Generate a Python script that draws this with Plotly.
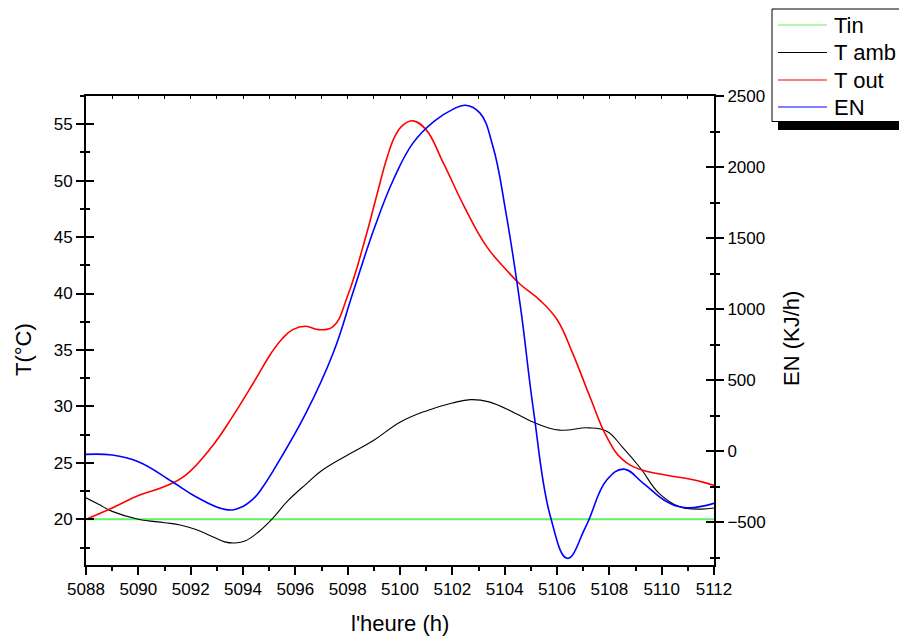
import plotly.graph_objects as go

# ---------------- data ----------------
hours_tin = [5088, 5112]
t_in = [20.0, 20.0]

hours_amb = [5088, 5088.5, 5089, 5090, 5091, 5091.6, 5092.2, 5092.8, 5093.3, 5093.7, 5094.1,
             5094.6, 5095.1, 5095.7, 5096.4, 5097, 5098, 5099, 5100, 5101, 5102, 5102.7,
             5103.4, 5104.4, 5105.1, 5106.1, 5107.2, 5107.9, 5108.5, 5109.2, 5109.9, 5110.7,
             5111.5, 5112]
t_amb = [21.9, 21.3, 20.7, 20.0, 19.7, 19.5, 19.1, 18.5, 18.0, 17.9, 18.1,
         18.9, 20.0, 21.6, 23.1, 24.3, 25.7, 27.0, 28.6, 29.6, 30.3, 30.6,
         30.4, 29.4, 28.6, 27.9, 28.1, 27.8, 26.4, 24.5, 22.3, 21.1,
         20.9, 21.0]

hours_out = [5088, 5089, 5090, 5091, 5091.8, 5092.8, 5093.6, 5094.4, 5095.1, 5095.5, 5095.9,
             5096.4, 5096.9, 5097.45, 5098, 5098.7, 5099.1, 5099.5, 5099.8, 5100.1, 5100.5,
             5101, 5101.65, 5102.5, 5103.3, 5104.1, 5104.6, 5105.35, 5106, 5106.6, 5107.25,
             5107.9, 5108.5, 5109.2, 5110.2, 5111.2, 5112]
t_out = [20.0, 21.0, 22.1, 22.9, 23.9, 26.4, 29.1, 32.1, 34.8, 36.0, 36.8,
         37.1, 36.8, 37.1, 39.8, 45.1, 48.6, 52.0, 53.9, 54.9, 55.3,
         54.5, 51.6, 47.5, 44.2, 42.0, 40.8, 39.4, 37.7, 34.7, 30.9,
         27.3, 25.3, 24.4, 23.9, 23.5, 23.0]

hours_en = [5088, 5089, 5090, 5091.3, 5092.2, 5093.35, 5093.9, 5094.4, 5094.75, 5095.1, 5096.4,
            5097.45, 5098.2, 5099, 5099.75, 5100.5, 5101.3, 5102, 5102.5, 5103.05, 5103.55,
            5104.05, 5104.6, 5105.1, 5105.75, 5106.4, 5107.1, 5107.9, 5108.55, 5109.3, 5110.2,
            5110.95, 5112]
en = [-23, -28, -75, -216, -321, -412, -398, -335, -255, -155, 265,
      692, 1114, 1560, 1912, 2170, 2322, 2404, 2435, 2381, 2146,
      1677, 1020, 289, -462, -755, -532, -204, -127, -227, -357,
      -399, -368]

legend_names = ["Tin", "T amb", "T out", "EN"]
legend_colors = ["#66ee66", "#000000", "#ff0000", "#0000ff"]

# ---------------- layout geometry ----------------
W, H = 899, 637
ML, MR, MT, MB = 86, 185, 96, 72
PW, PH = W - ML - MR, H - MT - MB


def px_x(p):
    return (p - ML) / PW


def px_y(p):
    return (H - MB - p) / PH


FONT = "Liberation Sans, Arial, sans-serif"
SMOOTH = 1.2

fig = go.Figure()
fig.add_trace(go.Scatter(x=hours_tin, y=t_in, mode="lines", name="Tin",
                         line=dict(color=legend_colors[0], width=2), showlegend=False))
fig.add_trace(go.Scatter(x=hours_amb, y=t_amb, mode="lines", name="T amb",
                         line=dict(color=legend_colors[1], width=1.1, shape="spline",
                                   smoothing=SMOOTH), showlegend=False))
fig.add_trace(go.Scatter(x=hours_out, y=t_out, mode="lines", name="T out",
                         line=dict(color=legend_colors[2], width=1.6, shape="spline",
                                   smoothing=SMOOTH), showlegend=False))
fig.add_trace(go.Scatter(x=hours_en, y=en, mode="lines", name="EN", yaxis="y2",
                         line=dict(color=legend_colors[3], width=1.6, shape="spline",
                                   smoothing=SMOOTH), showlegend=False))

xr = [5088, 5112]
y1r = [15.95, 57.5]
y2r = [-802, 2500]
tickfont = dict(family=FONT, size=17, color="black")

fig.update_layout(
    width=W, height=H,
    margin=dict(l=ML, r=MR, t=MT, b=MB, pad=0),
    paper_bgcolor="white", plot_bgcolor="white",
    font=dict(family=FONT, color="black"),
    xaxis=dict(range=xr, showgrid=False, zeroline=False, showline=True, linewidth=2,
               linecolor="black", mirror=True, ticks="outside", ticklen=8, tickwidth=2,
               tickcolor="black", dtick=2, tick0=5088, tickfont=tickfont,
               minor=dict(ticks="outside", ticklen=4, tickwidth=2, dtick=1, tickcolor="black")),
    xaxis2=dict(range=xr, overlaying="x", side="top", showgrid=False, zeroline=False,
                showline=False, ticks="inside", ticklen=3, tickwidth=1, tickcolor="black",
                dtick=1, tick0=5088, showticklabels=False),
    yaxis=dict(range=y1r, showgrid=False, zeroline=False, showline=True, linewidth=2,
               linecolor="black", ticks="outside", ticklen=8, tickwidth=2, tickcolor="black",
               dtick=5, tick0=0, tickfont=tickfont,
               minor=dict(ticks="outside", ticklen=4, tickwidth=2, dtick=2.5, tick0=0,
                          tickcolor="black")),
    yaxis3=dict(range=y1r, overlaying="y", side="left", anchor="x", showgrid=False,
                zeroline=False, showline=False, ticks="inside", ticklen=8, tickwidth=2,
                tickcolor="black", dtick=5, tick0=0, showticklabels=False,
                minor=dict(ticks="inside", ticklen=4, tickwidth=2, dtick=2.5, tick0=0,
                           tickcolor="black")),
    yaxis2=dict(range=y2r, overlaying="y", side="right", anchor="x", showgrid=False,
                zeroline=False, showline=True, linewidth=2, linecolor="black",
                ticks="outside", ticklen=8, tickwidth=2, tickcolor="black", dtick=500, tick0=0,
                tickfont=tickfont,
                minor=dict(ticks="outside", ticklen=4, tickwidth=2, dtick=250, tick0=0,
                           tickcolor="black")),
    yaxis4=dict(range=y2r, overlaying="y", side="right", anchor="x", showgrid=False,
                zeroline=False, showline=False, ticks="inside", ticklen=8, tickwidth=2,
                tickcolor="black", dtick=500, tick0=0, showticklabels=False,
                minor=dict(ticks="inside", ticklen=4, tickwidth=2, dtick=250, tick0=0,
                           tickcolor="black")),
    showlegend=False,
)

# invisible traces to activate the overlay axes (tick marks on both sides)
fig.add_trace(go.Scatter(x=[None], y=[None], xaxis="x2", yaxis="y3", showlegend=False,
                         hoverinfo="skip"))
fig.add_trace(go.Scatter(x=[None], y=[None], yaxis="y4", showlegend=False, hoverinfo="skip"))

titlefont = dict(family=FONT, size=22, color="black")
annotations = [
    dict(text="l'heure (h)", x=px_x(400), y=px_y(623), xref="paper", yref="paper",
         showarrow=False, xanchor="center", yanchor="middle", font=titlefont),
    dict(text="T(°C)", x=px_x(23), y=px_y(350), xref="paper", yref="paper", textangle=-90,
         showarrow=False, xanchor="center", yanchor="middle", font=titlefont),
    dict(text="EN (KJ/h)", x=px_x(791), y=px_y(339), xref="paper", yref="paper", textangle=-90,
         showarrow=False, xanchor="center", yanchor="middle", font=titlefont),
]

shapes = [
    # legend shadow
    dict(type="rect", xref="paper", yref="paper", x0=px_x(778), x1=px_x(905),
         y0=px_y(130), y1=px_y(121.5), fillcolor="black", line=dict(width=0)),
    # legend box
    dict(type="rect", xref="paper", yref="paper", x0=px_x(772), x1=px_x(905),
         y0=px_y(121.5), y1=px_y(9), fillcolor="white", line=dict(color="black", width=1)),
]
legend_y = [25, 52.5, 80, 107]
for name, color, ly in zip(legend_names, legend_colors, legend_y):
    shapes.append(dict(type="line", xref="paper", yref="paper", x0=px_x(778), x1=px_x(827),
                       y0=px_y(ly), y1=px_y(ly), line=dict(color=color, width=1.2)))
    annotations.append(dict(text=name, x=px_x(832), y=px_y(ly), xref="paper", yref="paper",
                            showarrow=False, xanchor="left", yanchor="middle",
                            font=dict(family=FONT, size=22, color="black")))

fig.update_layout(annotations=annotations, shapes=shapes)

fig.write_html("out.html")
